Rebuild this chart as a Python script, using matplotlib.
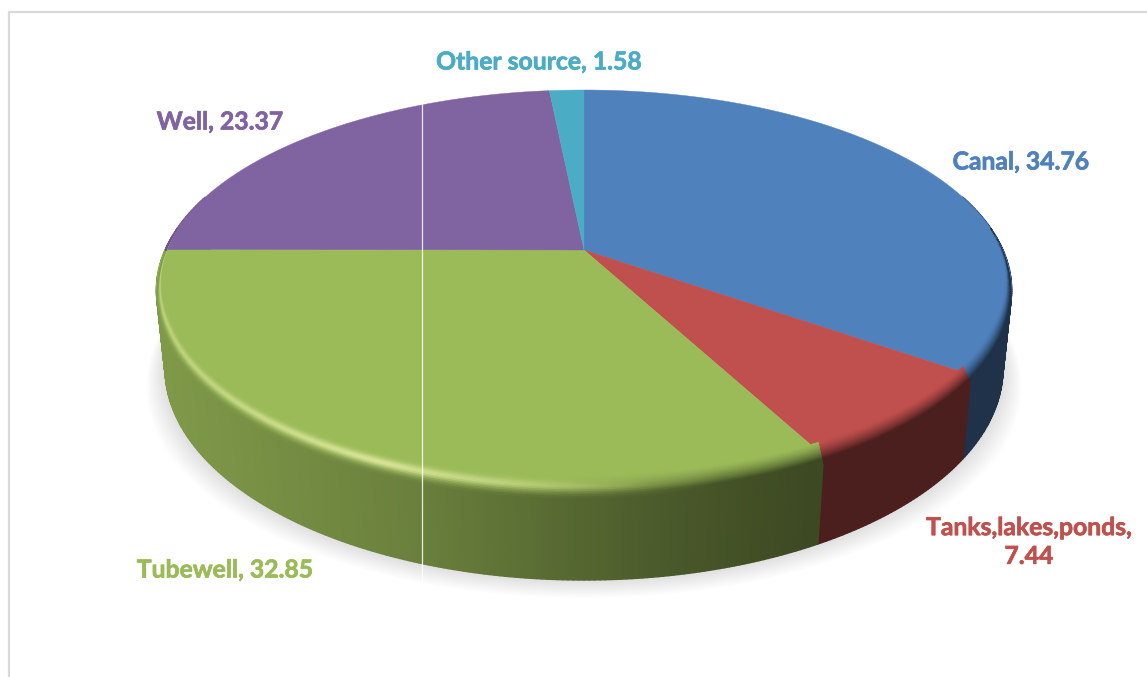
import numpy as np
import matplotlib
matplotlib.use('Agg')
from matplotlib import pyplot as plt
from matplotlib import patheffects
from matplotlib.collections import PolyCollection
from matplotlib.colors import to_rgb

categories = ['Canal', 'Tanks,lakes,ponds', 'Tubewell', 'Well', 'Other source']
values = [34.76, 7.44, 32.85, 23.37, 1.58]
colors = ['#4F81BD', '#C0504D', '#9BBB59', '#8064A2', '#4BACC6']

plt.rcParams['font.family'] = ['Lato', 'DejaVu Sans']

# perspective of the disc, in pixels
CX, CY = 584, 250
R, A, K = 419, 192, 0.2
DEPTH, M = 78.6, 0.02


def top(th):
    u, v = np.sin(th), np.cos(th)
    w = 1 + K * v
    return CX + R * u / w, CY - A * v / w


def bottom(th):
    u, v = np.sin(th), np.cos(th)
    w = 1 + M + K * v
    return CX + R * u / w, CY + (DEPTH - A * v) / w


def side_shade(x):
    return np.interp(x, [160, 420, 650, 810], [0.82, 0.68, 0.49, 0.39])


def glow(x):
    return np.interp(x, [157, 250, 380, 520, 650], [0.32, 0.45, 0.62, 0.3, 0.0])


fig = plt.figure(figsize=(11.47, 6.77), dpi=100)
ax = fig.add_axes([0, 0, 1, 1])
ax.set_xlim(0, 1147)
ax.set_ylim(677, 0)
ax.axis('off')

# frame of the chart area
ax.plot([9, 9, 1147], [677, 12, 12], color='#d9d9d9', lw=1.6, zorder=1)

# soft shadow under the disc
sh = np.linspace(0, 2 * np.pi, 400)
bx, by = bottom(sh)
for e in np.linspace(1, 19, 16):
    sx = CX + (bx - CX) * (1 + e / 420)
    sy = by + e * 0.95
    ax.fill(sx, sy, color='black', alpha=0.0075, lw=0, zorder=2)

edges = np.cumsum([0] + values) / sum(values) * 2 * np.pi

# side wall, slice by slice
for i in range(len(values)):
    base = np.array(to_rgb(colors[i]))
    th = np.linspace(edges[i], edges[i + 1], int(values[i] * 6) + 2)
    th = th[np.cos(th) < 0.3]
    if len(th) < 2:
        continue
    quads, cols = [], []
    for a, b in zip(th[:-1], th[1:]):
        x1, y1 = top(a)
        x2, y2 = top(b)
        x3, y3 = bottom(b)
        x4, y4 = bottom(a)
        quads.append([(x1, y1), (x2, y2), (x3, y3), (x4, y4)])
        cols.append(base * side_shade((x1 + x2) / 2))
    ax.add_collection(PolyCollection(quads, facecolors=cols, edgecolors=cols, linewidths=1.0, zorder=3))

# top faces
for i in range(len(values)):
    th = np.linspace(edges[i], edges[i + 1], int(values[i] * 14) + 2)
    x, y = top(th)
    ax.fill(np.r_[CX, x], np.r_[CY, y], color=colors[i], lw=0.3, zorder=4)

# bevel strip along the front edge
steps = np.linspace(0, 1, 15)
for i in range(len(values)):
    base = np.array(to_rgb(colors[i]))
    th = np.linspace(edges[i], edges[i + 1], int(values[i] * 10) + 2)
    th = th[np.cos(th) < 0.12]
    if len(th) < 2:
        continue
    quads, cols = [], []
    for a, b in zip(th[:-1], th[1:]):
        for s0, s1 in zip(steps[:-1], steps[1:]):
            pts = []
            for t, s in ((a, s0), (b, s0), (b, s1), (a, s1)):
                tx, ty = top(t)
                lx, ly = bottom(t)
                near = np.clip((0.12 - np.cos(t)) / 0.5, 0, 1)
                inx = tx + (CX - tx) * 0.022 * near
                iny = ty + (CY - ty) * 0.022 * near - 10 * max(-np.cos(t), 0) * near
                outx = tx + (lx - tx) * 0.09 * near
                outy = ty + (ly - ty) * 0.09 * near
                pts.append((inx + (outx - inx) * s, iny + (outy - iny) * s))
            sm = (s0 + s1) / 2
            xm = (pts[0][0] + pts[1][0]) / 2
            # left part keeps the colour until the lip, right part darkens gradually
            late = np.clip((sm - 0.55) / 0.45, 0, 1)
            early = np.clip(sm / 0.8, 0, 1) ** 1.4
            w = np.clip((xm - 520) / 200, 0, 1)
            ramp = late * (1 - w) + early * w
            c = base * (1 - ramp) + base * side_shade(xm) * ramp
            hump = np.exp(-((sm - 0.5) / 0.2) ** 2)
            c = c + (np.array([1.0, 1.0, 0.75]) - c) * glow(xm) * hump
            quads.append(pts)
            cols.append(np.clip(c, 0, 1))
    ax.add_collection(PolyCollection(quads, facecolors=cols, edgecolors=cols, linewidths=0.5, zorder=5))

# white hairline that crosses the picture
ax.plot([421.5, 421.5], [100, 582], color='white', lw=0.9, alpha=0.85, zorder=6)

label_pos = [(1021, 162), (1029, 542), (225, 570), (220, 122), (539, 62)]
label_txt = ['%s, %.2f' % (c, v) for c, v in zip(categories, values)]
label_txt[1] = '%s,\n%.2f' % (categories[1], values[1])
for (lx, ly), txt, col in zip(label_pos, label_txt, colors):
    t = ax.text(lx, ly, txt, color=col, fontsize=17.8, fontweight='bold', ha='center', va='center',
                linespacing=1.3, zorder=7)
    t.set_path_effects([patheffects.withStroke(linewidth=0.5, foreground=col)])

fig.savefig('out.png', dpi=100)
